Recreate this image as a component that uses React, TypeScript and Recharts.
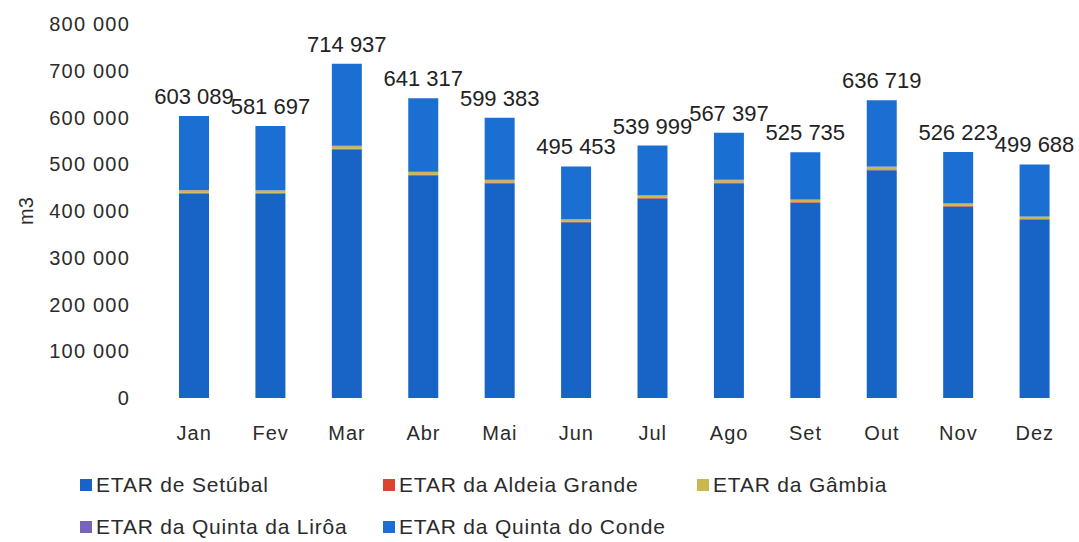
import React from 'react';
import { BarChart, Bar, XAxis, YAxis, Legend, LabelList } from 'recharts';

const MONTHS = ['Jan', 'Fev', 'Mar', 'Abr', 'Mai', 'Jun', 'Jul', 'Ago', 'Set', 'Out', 'Nov', 'Dez'];

// m3 per month
const SETUBAL = [437400, 437600, 531300, 476500, 459500, 375700, 426600, 459500, 417600, 487400, 409500, 381600];
const ALDEIA_GRANDE = [1600, 1400, 1700, 1500, 1500, 1300, 1400, 1500, 1400, 1600, 1500, 1400];
const GAMBIA = [5200, 4800, 5600, 5300, 5000, 4400, 4700, 4900, 4600, 5400, 4800, 4500];
const QUINTA_LIROA = [900, 800, 1000, 900, 900, 700, 800, 800, 800, 900, 800, 700];
const QUINTA_CONDE = [157989, 137097, 175337, 157117, 132483, 113353, 106499, 100697, 101335, 141419, 109623, 111488];
const TOTALS = [603089, 581697, 714937, 641317, 599383, 495453, 539999, 567397, 525735, 636719, 526223, 499688];

const Y_TICKS = [0, 100000, 200000, 300000, 400000, 500000, 600000, 700000, 800000];

const SERIES = [
  { key: 'setubal', name: 'ETAR de Setúbal', color: '#1763c6' },
  { key: 'aldeia', name: 'ETAR da Aldeia Grande', color: '#d9452f' },
  { key: 'gambia', name: 'ETAR da Gâmbia', color: '#c9b94c' },
  { key: 'liroa', name: 'ETAR da Quinta da Lirôa', color: '#7a62b8' },
  { key: 'conde', name: 'ETAR da Quinta do Conde', color: '#1b6fd2' },
];

const data = MONTHS.map((month, i) => ({
  month,
  setubal: SETUBAL[i],
  aldeia: ALDEIA_GRANDE[i],
  gambia: GAMBIA[i],
  liroa: QUINTA_LIROA[i],
  conde: QUINTA_CONDE[i],
  total: TOTALS[i],
}));

const fmt = (v: number) => String(v).replace(/\B(?=(\d{3})+(?!\d))/g, ' ');

const FONT = '"Liberation Sans", Arial, sans-serif';

// plain text label so it doesn't get wrapped to the bar width
const TotalLabel = (props: any) => {
  const { x, y, width, value } = props;
  return (
    <text
      x={x + width / 2}
      y={y - 12}
      textAnchor="middle"
      fontSize={22}
      fill="#222"
      fontFamily={FONT}
    >
      {fmt(value)}
    </text>
  );
};

const COL_WIDTHS = [303, 314, 300];

const renderLegend = () => (
  <div style={{ display: 'flex', flexWrap: 'wrap', width: 960, paddingLeft: 60, paddingTop: 10, fontFamily: FONT }}>
    {SERIES.map((s, i) => (
      <div key={s.key} style={{ width: COL_WIDTHS[i % 3], height: 42, display: 'flex', alignItems: 'center' }}>
        <div style={{ width: 12, height: 12, background: s.color, marginRight: 4 }} />
        <span style={{ fontSize: 21, letterSpacing: 0.8, color: '#2b2b2b' }}>{s.name}</span>
      </div>
    ))}
  </div>
);

export default function App() {
  return (
    <div style={{ width: 1079, height: 542, background: '#fff' }}>
      <style>{'body{margin:0}'}</style>
      <BarChart
        width={1079}
        height={542}
        data={data}
        margin={{ top: 24, right: 6, bottom: 0, left: 20 }}
        barSize={30}
      >
        <XAxis
          dataKey="month"
          axisLine={false}
          tickLine={false}
          tickMargin={22}
          height={56}
          tick={{ fontSize: 20, fill: '#2b2b2b', fontFamily: FONT, letterSpacing: 1 }}
        />
        <YAxis
          domain={[0, 800000]}
          ticks={Y_TICKS}
          interval={0}
          axisLine={false}
          tickLine={false}
          tickSize={0}
          tickMargin={26}
          width={136}
          tickFormatter={fmt}
          tick={{ fontSize: 20, fill: '#2b2b2b', fontFamily: FONT, letterSpacing: 1.2 }}
          label={{
            value: 'm3',
            angle: -90,
            position: 'insideLeft',
            offset: 6,
            style: { fontSize: 20, fill: '#2b2b2b', fontFamily: FONT, textAnchor: 'middle' },
          }}
        />
        <Legend verticalAlign="bottom" align="left" height={88} content={renderLegend} />
        {SERIES.map((s) => (
          <Bar key={s.key} dataKey={s.key} name={s.name} stackId="a" fill={s.color} isAnimationActive={false}>
            {s.key === 'conde' && <LabelList dataKey="total" content={TotalLabel} />}
          </Bar>
        ))}
      </BarChart>
    </div>
  );
}
